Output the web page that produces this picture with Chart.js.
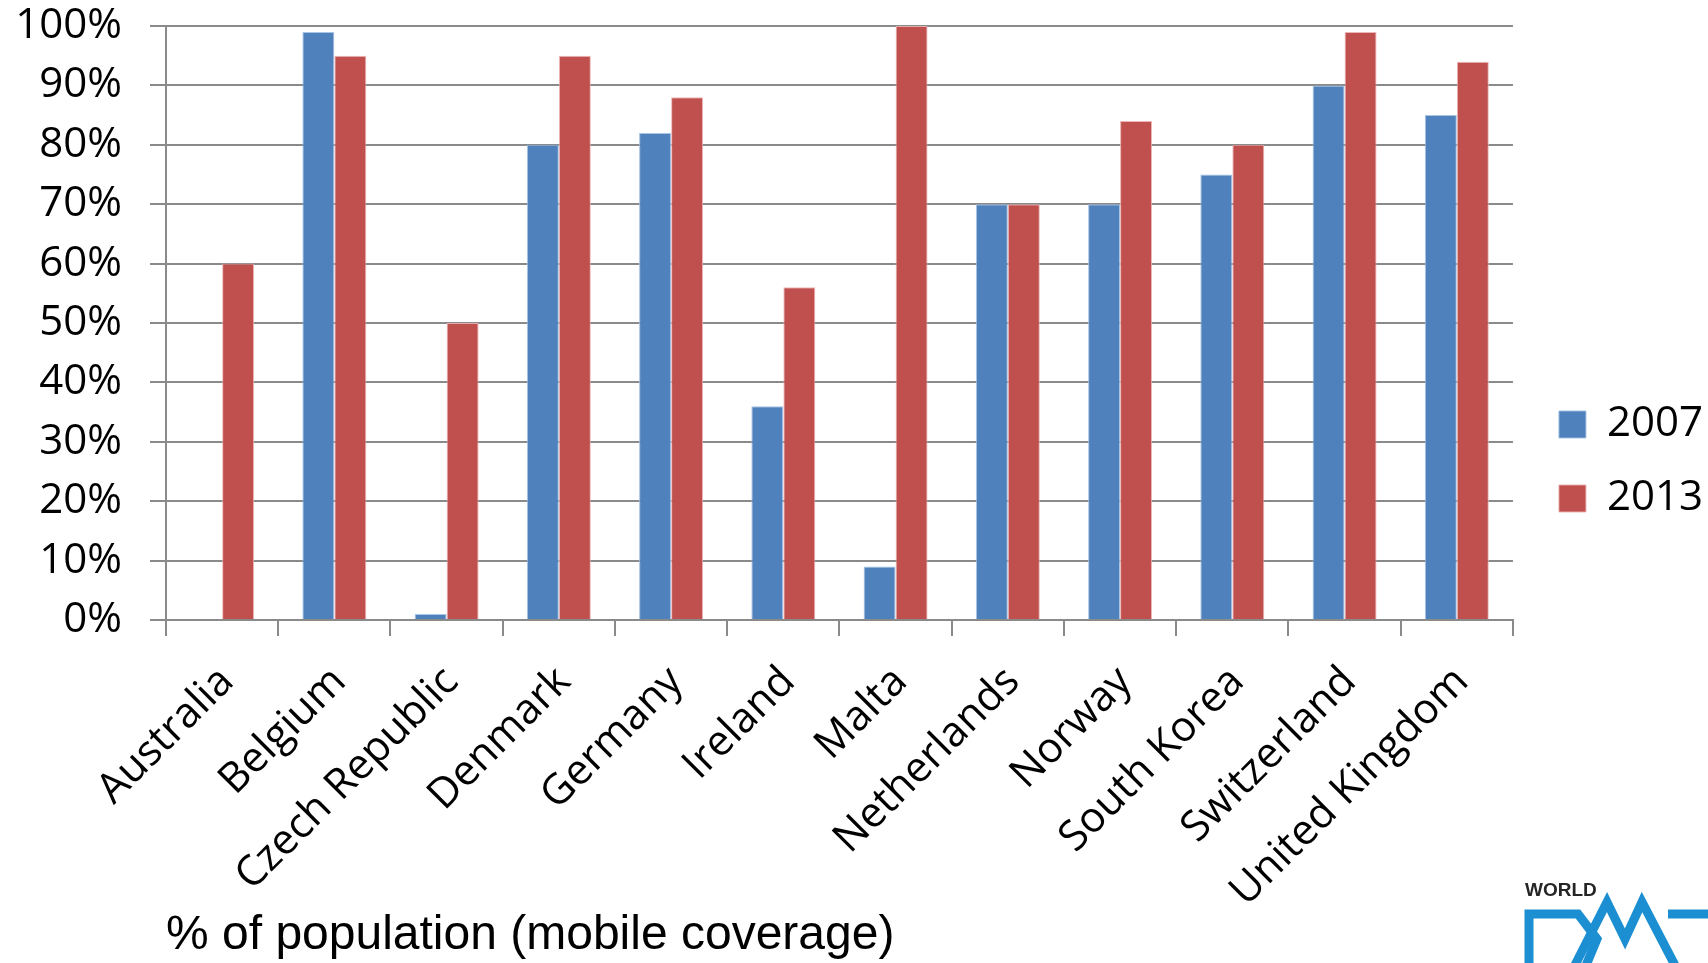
<!DOCTYPE html>
<html>
<head>
<meta charset="utf-8">
<script src="https://cdn.jsdelivr.net/npm/chart.js@4.4.1/dist/chart.umd.min.js"></script>
<style>
  html, body { margin: 0; padding: 0; background: #ffffff; overflow: hidden; }
  canvas { display: block; }
</style>
</head>
<body>
<canvas id="coverage" width="1708" height="963"></canvas>
<script>
// Mobile coverage, share of population
const countries = ['Australia', 'Belgium', 'Czech Republic', 'Denmark', 'Germany', 'Ireland',
  'Malta', 'Netherlands', 'Norway', 'South Korea', 'Switzerland', 'United Kingdom'];
const coverage2007 = [null, 99, 1, 80, 82, 36, 9, 70, 70, 75, 90, 85];
const coverage2013 = [60, 95, 50, 95, 88, 56, 100, 70, 84, 80, 99, 94];
const seriesLabels = ['2007', '2013'];
const axisTitle = '% of population (mobile coverage)';
const yMin = 0, yMax = 100, yStep = 10;

const GRID = '#8a8a8a';
const LABEL_FONT = { family: '"Open Sans", "Noto Sans", sans-serif', size: 42, lineHeight: 1.2 };

// Brand mark in the lower right corner
const worldLogo = {
  id: 'worldLogo',
  afterDraw(chart) {
    const ctx = chart.ctx;
    ctx.save();
    ctx.fillStyle = '#262626';
    ctx.font = 'bold 19px "Liberation Sans", Arial, sans-serif';
    ctx.textBaseline = 'alphabetic';
    ctx.fillText('WORLD', 1525, 896);
    ctx.strokeStyle = '#1b8fd1';
    ctx.lineWidth = 9;
    ctx.lineJoin = 'miter';
    ctx.lineCap = 'butt';
    ctx.beginPath();
    ctx.moveTo(1529, 975); ctx.lineTo(1529, 914); ctx.lineTo(1578, 914);
    ctx.lineTo(1597, 939); ctx.lineTo(1582, 975);
    ctx.stroke();
    ctx.beginPath();
    ctx.moveTo(1570, 975); ctx.lineTo(1607, 902); ctx.lineTo(1625, 939);
    ctx.lineTo(1642, 902); ctx.lineTo(1680, 975);
    ctx.stroke();
    ctx.beginPath();
    ctx.moveTo(1668, 914); ctx.lineTo(1715, 914);
    ctx.stroke();
    ctx.restore();
  }
};

new Chart(document.getElementById('coverage'), {
  type: 'bar',
  data: {
    labels: countries,
    datasets: [
      { label: seriesLabels[0], data: coverage2007, backgroundColor: '#4f81bd',
        borderColor: 'rgba(160,190,225,0.9)', borderWidth: 1 },
      { label: seriesLabels[1], data: coverage2013, backgroundColor: '#c0504d',
        borderColor: 'rgba(235,175,175,0.9)', borderWidth: 1 }
    ]
  },
  options: {
    responsive: false,
    animation: false,
    devicePixelRatio: 1,
    datasets: { bar: { categoryPercentage: 0.57, barPercentage: 1.0 } },
    layout: { padding: { left: 0, top: 0, right: -5, bottom: 40 } },
    plugins: {
      legend: {
        position: 'right',
        align: 'center',
        labels: {
          boxWidth: 27, boxHeight: 27, padding: 32,
          color: '#000', font: LABEL_FONT
        }
      },
      tooltip: { enabled: false }
    },
    scales: {
      x: {
        offset: true,
        grid: { display: true, drawOnChartArea: false, drawTicks: true, tickLength: 16,
                offset: true, color: GRID, lineWidth: 2 },
        border: { display: true, color: GRID, width: 2 },
        ticks: { autoSkip: false, maxRotation: 45, minRotation: 45, padding: 21,
                 labelOffset: 5, color: '#000', font: LABEL_FONT },
        title: { display: true, text: axisTitle, align: 'start', color: '#000',
                 font: { family: '"Liberation Sans", Arial, sans-serif', size: 48, lineHeight: 1.2 },
                 padding: { top: 0, bottom: -42 } },
        afterFit(scale) { scale.height = 303; scale.paddingLeft = 0; scale.paddingRight = 0; }
      },
      y: {
        min: yMin, max: yMax,
        grid: { color: GRID, lineWidth: 2, tickLength: 16, drawTicks: true },
        border: { display: true, color: GRID, width: 2 },
        ticks: { stepSize: yStep, padding: 28, color: '#000', font: LABEL_FONT,
                 callback: v => v + '%' },
        afterFit(scale) { scale.width = 166; scale.paddingTop = 26; scale.paddingBottom = 0; }
      },
      gap: {
        position: 'right',
        display: true,
        grid: { display: false, drawTicks: false },
        border: { display: false },
        ticks: { display: false },
        afterFit(scale) { scale.width = 14; scale.paddingTop = 0; scale.paddingBottom = 0; }
      }
    }
  },
  plugins: [worldLogo]
});
</script>
</body>
</html>
